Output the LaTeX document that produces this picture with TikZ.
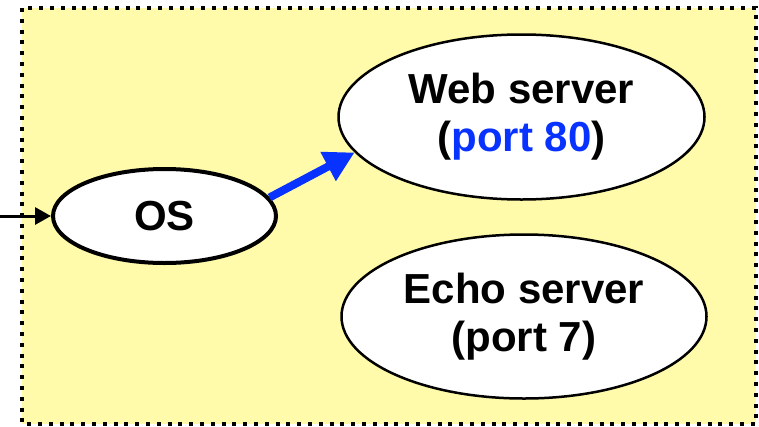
\documentclass[tikz,border=0pt]{standalone}
\usepackage{fontspec}
\setmainfont{Liberation Sans}
\usetikzlibrary{shapes.geometric,arrows.meta}
\definecolor{bgyellow}{RGB}{255,251,170}
\definecolor{arrowblue}{RGB}{8,50,255}
\tikzset{
  frame/.style={draw=black, fill=bgyellow, line width=4pt, dash pattern=on 4pt off 6.8pt},
  proc/.style={ellipse, draw=black, fill=white, line width=2.5pt, inner sep=0pt, align=center,
    font=\fontsize{42}{48}\selectfont\bfseries},
  osnode/.style={proc, line width=4pt},
  inarrow/.style={line width=3pt, -{Triangle[length=16pt,width=17pt]}},
  bluearrow/.style={draw=arrowblue, line width=8pt, -{Triangle[length=30pt,width=31pt]}}
}
\begin{document}
\begin{tikzpicture}[x=1pt,y=-1pt]
\useasboundingbox (0,0) rectangle (759,426);
\draw[frame] (22,8) rectangle (756,424);
\node[osnode, minimum width=223pt, minimum height=94pt] (os) at (164.5,216) {OS};
\node[proc, minimum width=366pt, minimum height=165pt] (web) at (521.5,117) {Web server\\(\textcolor{arrowblue}{port 80})};
\node[proc, minimum width=365pt, minimum height=164pt] (echo) at (524,316.5) {Echo server\\(port 7)};
\coordinate (in) at (0,216);
\draw[inarrow] (in) -- (os.west);
\draw[bluearrow] (os.10) -- (web.192);
\end{tikzpicture}
\end{document}
